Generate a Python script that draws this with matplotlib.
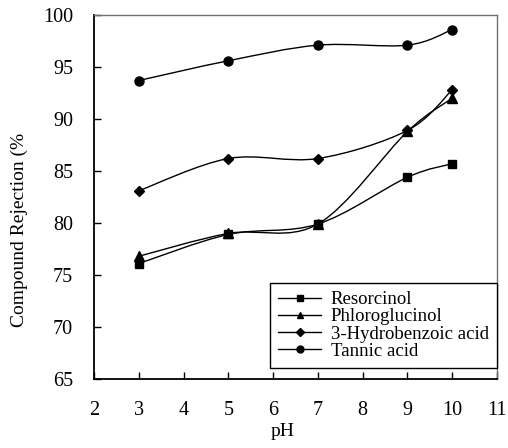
import matplotlib
matplotlib.use('Agg')
import matplotlib.pyplot as plt
import numpy as np
from matplotlib.path import Path
from matplotlib.patches import PathPatch
from matplotlib.lines import Line2D

plt.rcParams['font.family'] = ['Liberation Serif', 'DejaVu Serif']

ph = [3, 5, 7, 9, 10]
resorcinol = [76.1, 78.9, 79.9, 84.4, 85.7]
phloroglucinol = [76.8, 79.0, 79.9, 88.8, 92.0]
hydrobenzoic = [83.1, 86.2, 86.2, 88.9, 92.8]
tannic = [93.7, 95.6, 97.1, 97.1, 98.6]

names = ['Resorcinol', 'Phloroglucinol', '3-Hydrobenzoic acid', 'Tannic acid']
series = [resorcinol, phloroglucinol, hydrobenzoic, tannic]
markers = ['s', '^', 'D', 'o']
msizes = [6, 6.5, 5.5, 6.5]


def smooth_path(x, y):
    # Excel-like smoothed line: cubic bezier segments through the points
    p = np.column_stack([x, y]).astype(float)
    n = len(p)
    verts = [p[0]]
    codes = [Path.MOVETO]
    for i in range(n - 1):
        prev = p[i - 1] if i > 0 else p[i]
        nxt = p[i + 2] if i + 2 < n else p[i + 1]
        c1 = p[i] + (p[i + 1] - prev) / 6.0
        c2 = p[i + 1] - (nxt - p[i]) / 6.0
        verts += [c1, c2, p[i + 1]]
        codes += [Path.CURVE4] * 3
    return Path(verts, codes)


fig = plt.figure(figsize=(5.08, 4.48), dpi=100)
ax = fig.add_axes([94 / 508, 1 - 379 / 448, 403 / 508, 364 / 448])

handles = []
for vals, name, m, ms in zip(series, names, markers, msizes):
    ax.add_patch(PathPatch(smooth_path(ph, vals), facecolor='none', edgecolor='k', lw=1.0))
    ax.plot(ph, vals, m, color='k', markersize=ms, zorder=3)
    handles.append(Line2D([], [], color='k', marker=m, markersize=ms - 1.5, lw=1.0))

ax.set_xlim(2, 11)
ax.set_ylim(65, 100)
ax.set_xticks(range(2, 12))
ax.set_yticks(range(65, 101, 5))
ax.tick_params(direction='in', length=5, width=1, labelsize=14.5)
ax.tick_params(axis='y', pad=15)
ax.tick_params(axis='x', pad=16)

for s in ['left', 'bottom']:
    ax.spines[s].set_linewidth(1.3)
for s in ['top', 'right']:
    ax.spines[s].set_color('#707070')
    ax.spines[s].set_linewidth(1.0)

ax.set_xlabel('pH', fontsize=14)
ax.xaxis.set_label_coords(0.467, -0.12)
ax.set_ylabel('Compound Rejection (%', fontsize=14)
ax.yaxis.set_label_coords(-0.165, 0.41)

leg = ax.legend(handles, names, loc='lower right', bbox_to_anchor=(1.0, 0.03),
                borderaxespad=0, fancybox=False, fontsize=13.5, labelspacing=0.0,
                handlelength=2.3, handletextpad=0.5, borderpad=0.45, framealpha=1)
leg.get_frame().set_edgecolor('k')
leg.get_frame().set_linewidth(1.0)

fig.savefig('out.png', dpi=100)
